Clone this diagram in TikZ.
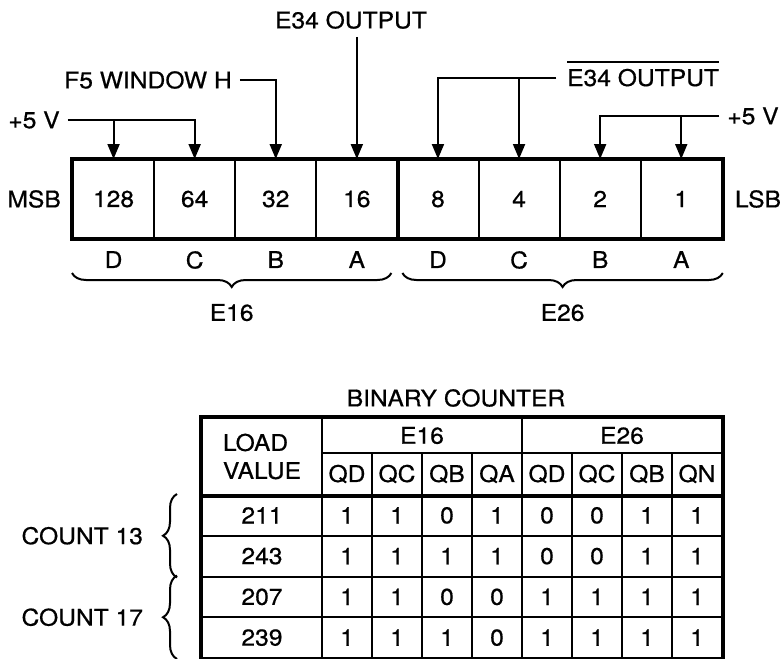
\documentclass[tikz,border=0pt]{standalone}
\usepackage{fontspec}
\setmainfont[FakeStretch=1.07, FakeBold=0.6]{TeX Gyre Heros}
\usetikzlibrary{positioning,arrows.meta,decorations.pathreplacing,calc}

\newcommand\barlbl[1]{\vbox{\hrule height 1.6pt \kern 6pt \hbox{#1}}}

\begin{document}
\begin{tikzpicture}[x=1pt, y=-1pt,
  font=\fontsize{23}{28}\selectfont,
  reg/.style={draw, line width=2pt, minimum width=81.1pt, minimum height=78pt, inner sep=0pt},
  tcell/.style={draw, line width=2pt, minimum width=50pt, minimum height=40.75pt, inner sep=0pt},
  lbl/.style={inner sep=0pt},
  sig/.style={inner xsep=8pt, inner ysep=8pt},
  arr/.style={-{Triangle[length=15pt, width=12pt]}, line width=2pt},
  rbrace/.style={decorate, decoration={brace, mirror, amplitude=14pt}, line width=2pt},
  lbrace/.style={decorate, decoration={brace, amplitude=14pt}, line width=2pt}
]
\useasboundingbox (0,0) rectangle (780,659);

% register
\foreach \v [count=\i] in {128,64,32,16,8,4,2,1}
  \node[reg] (b\v) at ({73+81.1*(\i-0.5)},199) {\v};
\draw[line width=3.8pt] (b128.north west) rectangle (b1.south east);
\draw[line width=3pt] (b16.north east) -- (b16.south east);
\foreach \v/\l in {128/D,64/C,32/B,16/A,8/D,4/C,2/B,1/A}
  \node[lbl, below=12pt of b\v] (l\v) {\l};
\node[lbl, left=11pt of b128] (msb) {MSB};
\node[lbl, right=12pt of b1] (lsb) {LSB};

% inputs
\node[sig] (vl) at (34,120) {+5 V};
\node[sig] (f5) at (148,80) {F5 WINDOW H};
\node[sig] (e34) at (351,20) {E34 OUTPUT};
\node[lbl, anchor=base west] (e34n) at (567,86) {\barlbl{E34 OUTPUT}};
\node[sig] (vr) at (753,116) {+5 V};

\draw[arr] (vl.east) -| (b128.north);
\draw[arr] (vl.east) -| (b64.north);
\draw[arr] (f5.east) -| (b32.north);
\draw[arr] (b16.north |- e34.south) -- (b16.north);
\draw[arr] ([xshift=-11pt,yshift=8pt]e34n.base west) -| (b8.north);
\draw[arr] ([xshift=-11pt,yshift=8pt]e34n.base west) -| (b4.north);
\draw[arr] (vr.west) -| (b2.north);
\draw[arr] (vr.west) -| (b1.north);

\draw[rbrace] ([yshift=-34pt]b128.south west) -- ([xshift=-7pt,yshift=-34pt]b16.south east)
  node[lbl, midway, below=30pt] (e16) {E16};
\draw[rbrace] ([xshift=6pt,yshift=-34pt]b8.south west) -- ([yshift=-34pt]b1.south east)
  node[lbl, midway, below=30pt] (e26) {E26};

% binary counter table
\node[lbl] (title) at (456,398) {BINARY COUNTER};
\node[tcell, minimum width=120pt, minimum height=77pt, align=left] (load) at (262,456.5) {LOAD\\VALUE};
\node[tcell, minimum width=200pt, minimum height=35pt] (h16) at (422,435.5) {E16};
\node[tcell, minimum width=200pt, minimum height=35pt] (h26) at (622,435.5) {E26};
\foreach \q [count=\c] in {QD,QC,QB,QA,QD,QC,QB,QN}
  \node[tcell, minimum height=42pt] (q\c) at ({322+50*(\c-0.5)},474) {\q};
\foreach \v [count=\r] in {211,243,207,239}
  \node[tcell, minimum width=120pt] (v\v) at (262,{495+40.75*(\r-0.5)}) {\v};
\foreach \row [count=\r] in {{1,1,0,1,0,0,1,1},{1,1,1,1,0,0,1,1},{1,1,0,0,1,1,1,1},{1,1,1,0,1,1,1,1}}
  \foreach \b [count=\c] in \row
    \node[tcell] (d\r\c) at ({322+50*(\c-0.5)},{495+40.75*(\r-0.5)}) {\b};
\draw[line width=3.8pt] (load.north west) rectangle (d48.south east);
\draw[line width=3.8pt] (load.south west) -- (q8.south east);

\draw[lbrace] ([xshift=-24pt]v243.south west) -- ([xshift=-24pt]v211.north west)
  node[lbl, midway, left=33pt] (c13) {COUNT 13};
\draw[lbrace] ([xshift=-24pt]v239.south west) -- ([xshift=-24pt]v207.north west)
  node[lbl, midway, left=33pt] (c17) {COUNT 17};
\end{tikzpicture}
\end{document}
